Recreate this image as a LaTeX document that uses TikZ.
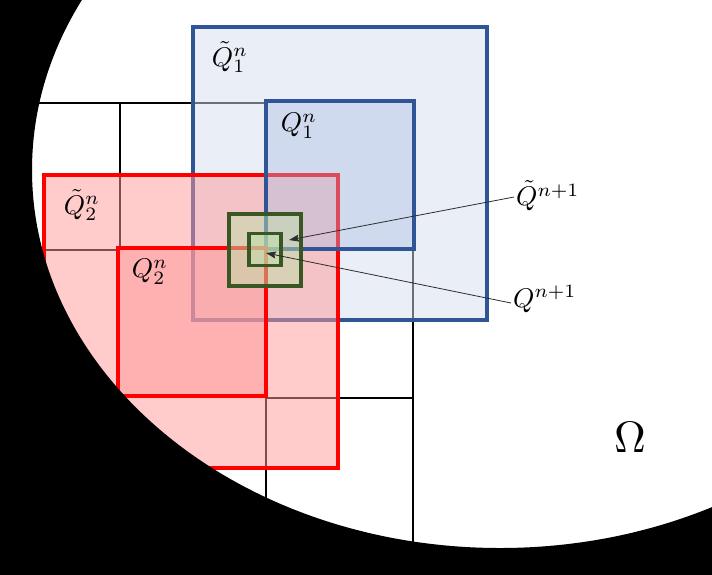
\documentclass[tikz,border=0pt]{standalone}
\usepackage{graphicx}
\usetikzlibrary{arrows.meta}
\definecolor{qblue}{RGB}{47,85,151}
\definecolor{qred}{RGB}{255,0,0}
\definecolor{qgreen}{RGB}{56,87,35}
\definecolor{fblueA}{RGB}{214,222,240}
\definecolor{fblueB}{RGB}{167,190,225}
\definecolor{fpink}{RGB}{255,153,153}
\definecolor{fgreen}{RGB}{190,224,170}
\definecolor{arrowgray}{RGB}{45,45,45}
\newcommand{\biglab}[1]{\scalebox{2.7}{$#1$}}
\begin{document}
\begin{tikzpicture}[x=1pt,y=-1pt,
  gridline/.style={black, line width=1.4pt},
  boxnode/.style={anchor=north west, inner sep=0pt, outer sep=0pt},
  bluebig/.style={boxnode, draw=qblue, fill=fblueA, fill opacity=0.5, line width=3.2pt},
  bluesmall/.style={boxnode, draw=qblue, fill=fblueB, fill opacity=0.4, line width=3.6pt},
  redbig/.style={boxnode, draw=qred, fill=fpink, fill opacity=0.5, line width=3.2pt},
  redsmall/.style={boxnode, draw=qred, fill=fpink, fill opacity=0.5, line width=3.6pt},
  greenbox/.style={boxnode, draw=qgreen, fill=fgreen, fill opacity=0.5},
  lab/.style={inner sep=2pt},
  pointer/.style={arrowgray, line width=0.8pt, -{Stealth[length=10pt,width=7pt,inset=1.5pt]}}
]
\useasboundingbox (0,0) rectangle (712,574);
\clip (0,0) rectangle (712,574);
\fill[white] (0,0) rectangle (712,574);
% grid lines of the subdivision
\draw[gridline] (0,103) -- (266,103);
\draw[gridline] (120,103) -- (120,250);
\draw[gridline] (0,250) -- (120,250);
\draw[gridline] (266,398) -- (266,574);
\draw[gridline] (266,398) -- (413,398);
\draw[gridline] (413,249) -- (413,574);
% boxes
\node[bluebig, minimum width=294pt, minimum height=293pt] (Qt1) at (193,27) {};
\node[redbig, minimum width=294pt, minimum height=293pt] (Qt2) at (44,175) {};
\node[bluesmall, minimum width=148pt, minimum height=148pt] (Q1) at (266,101) {};
\node[redsmall, minimum width=148pt, minimum height=148pt] (Q2) at (118,248) {};
\node[greenbox, line width=4.2pt, minimum width=72pt, minimum height=72pt] (Qtn) at (229,214) {};
\node[greenbox, line width=3.2pt, minimum width=32pt, minimum height=32pt] (Qn) at (249,233.5) {};
% outside of the domain
\fill[black, even odd rule] (-10,-10) rectangle (722,584)
  (500,170) ellipse [x radius=468, y radius=378];
% labels
\node[lab] (lQt1) at (230,57) {\biglab{\tilde{Q}_1^n}};
\node[lab] (lQ1) at (299,126) {\biglab{Q_1^n}};
\node[lab] (lQt2) at (82,205) {\biglab{\tilde{Q}_2^n}};
\node[lab] (lQ2) at (150,272) {\biglab{Q_2^n}};
\node[lab, anchor=west] (lQtn) at (514,196) {\biglab{\tilde{Q}^{n+1}}};
\node[lab, anchor=west] (lQn) at (511,299) {\biglab{Q^{n+1}}};
\node[lab] (om) at (630,437) {\scalebox{4.4}{$\Omega$}};
% pointers
\coordinate (tipA) at (289,240);
\coordinate (tipB) at (266,253);
\draw[pointer] ([yshift=-1pt]lQtn.west) -- (tipA);
\draw[pointer] ([yshift=-4pt]lQn.west) -- (tipB);
\end{tikzpicture}
\end{document}
